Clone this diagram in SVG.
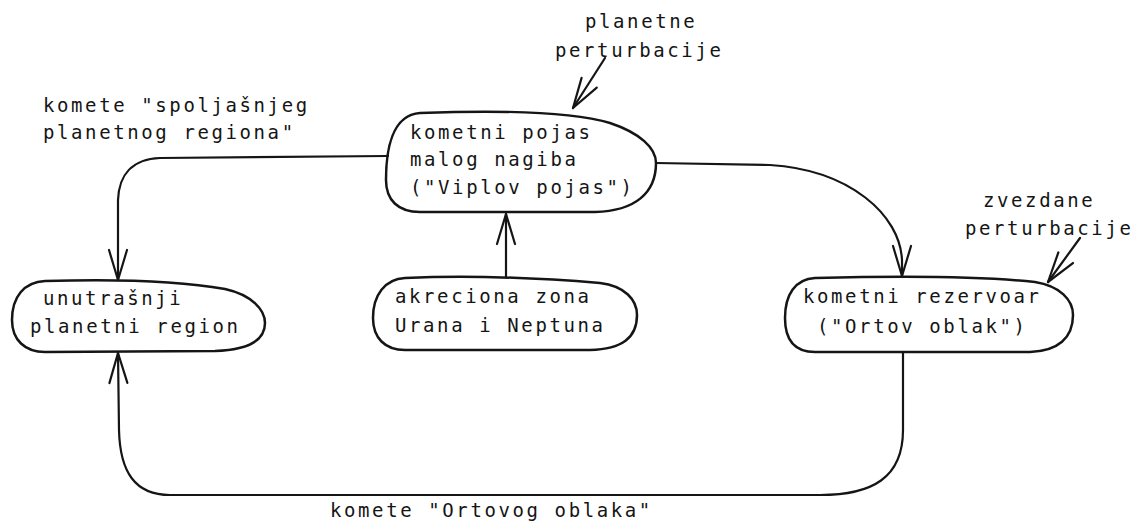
<svg xmlns="http://www.w3.org/2000/svg" width="1141" height="524" viewBox="0 0 1141 524">
<style>
.node{fill:none;stroke:#151515;stroke-width:2.5;stroke-linejoin:round}
.edge{fill:none;stroke:#151515;stroke-width:2.2;stroke-linecap:round}
.t{font-family:"DejaVu Sans Mono","Liberation Mono",monospace;font-size:19px;letter-spacing:2.6px;fill:#151515}
</style>
<defs>
<marker id="arr" viewBox="-32 -12 34 24" refX="0" refY="0" markerWidth="34" markerHeight="24" markerUnits="userSpaceOnUse" orient="auto">
<path d="M -30 -9 L 0 0 L -30 9" fill="none" stroke="#151515" stroke-width="2.2" stroke-linecap="round" stroke-linejoin="round"/>
</marker>
</defs>
<rect width="1141" height="524" fill="#fff"/>

<g id="connectors">
<path class="edge" d="M 388 156 L 160 158 C 132 159 119 175 118 200 L 118 280" marker-end="url(#arr)"/>
<path class="edge" d="M 656 163 L 770 165 C 850 170 900 215 902 260 L 902 276" marker-end="url(#arr)"/>
<path class="edge" d="M 506 277 L 506 214" marker-end="url(#arr)"/>
<path class="edge" d="M 903 352 L 903 430 C 903 478 872 495 820 495 L 170 495 C 135 495 120 472 119 430 L 118 353" marker-end="url(#arr)"/>
<path class="edge" d="M 605 58 L 573 108" marker-end="url(#arr)"/>
<path class="edge" d="M 1080 238 L 1048 282" marker-end="url(#arr)"/>
</g>

<g id="label-planetne">
<text class="t" x="585" y="28">planetne</text>
<text class="t" x="555" y="57">perturbacije</text>
</g>
<g id="label-zvezdane">
<text class="t" x="983" y="207">zvezdane</text>
<text class="t" x="965" y="235">perturbacije</text>
</g>
<g id="label-spoljasnjeg">
<text class="t" x="43" y="112">komete "spoljašnjeg</text>
<text class="t" x="43" y="139">planetnog regiona"</text>
</g>
<g id="label-ortovog">
<text class="t" x="330" y="517">komete "Ortovog oblaka"</text>
</g>

<g id="node-viplov">
<path class="node" d="M 420 113 C 500 110 570 111 610 123 C 640 133 656 148 656 163 C 656 193 635 211 595 212 L 420 212 C 398 212 386 200 386 180 C 386 150 392 115 420 113 Z"/>
<text class="t" x="410" y="139">kometni pojas</text>
<text class="t" x="410" y="166">malog nagiba</text>
<text class="t" x="410" y="194">("Viplov pojas")</text>
</g>

<g id="node-unutrasnji">
<path class="node" d="M 45 281 C 110 279 180 281 225 289 C 252 295 265 310 265 323 C 265 342 245 350 215 351 L 45 352 C 25 352 12 340 12 320 C 12 297 24 282 45 281 Z"/>
<text class="t" x="43" y="305">unutrašnji</text>
<text class="t" x="30" y="333">planetni region</text>
</g>

<g id="node-akreciona">
<path class="node" d="M 405 278 C 470 275 540 278 600 283 C 625 286 637 300 637 315 C 637 338 622 349 590 350 L 405 350 C 385 350 373 338 373 318 C 373 295 385 279 405 278 Z"/>
<text class="t" x="395" y="303">akreciona zona</text>
<text class="t" x="395" y="332">Urana i Neptuna</text>
</g>

<g id="node-rezervoar">
<path class="node" d="M 815 278 C 890 276 980 276 1035 282 C 1060 286 1073 300 1073 315 C 1073 338 1058 351 1030 352 L 815 352 C 795 352 785 340 785 318 C 785 295 795 279 815 278 Z"/>
<text class="t" x="803" y="303">kometni rezervoar</text>
<text class="t" x="817" y="333">("Ortov oblak")</text>
</g>
</svg>
